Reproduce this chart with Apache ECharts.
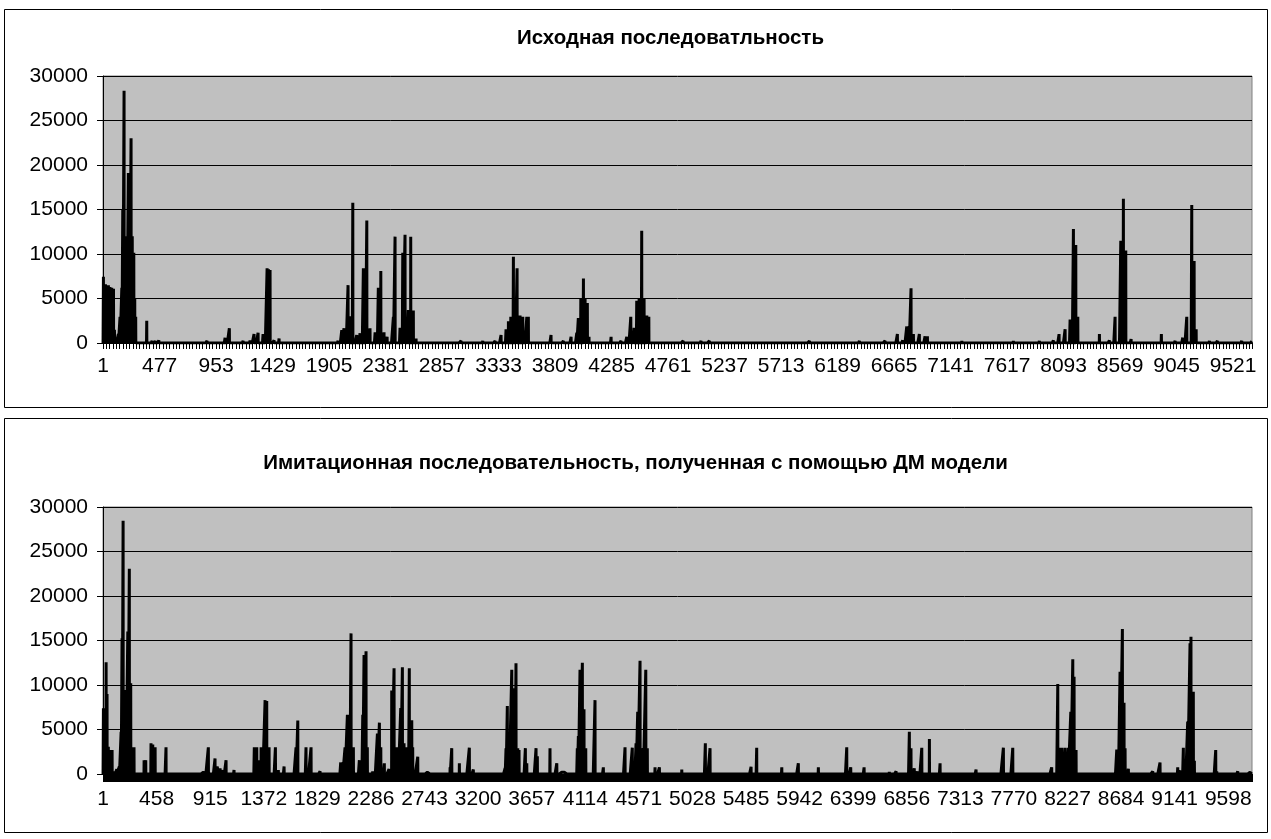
<!DOCTYPE html>
<html><head><meta charset="utf-8">
<script src="https://cdn.jsdelivr.net/npm/echarts@6/dist/echarts.min.js"></script>
<style>html,body{margin:0;padding:0;background:#fff;}#c{width:1271px;height:839px;}</style>
</head><body><div id="c"></div>
<script>
const topTitle = 'Исходная последоватльность';
const bottomTitle = 'Имитационная последовательность, полученная с помощью ДМ модели';
const topCount = 9680;
const bottomCount = 9800;
const yMin = 0, yMax = 30000, yStep = 5000;
const topLabelEvery = 476;
const bottomLabelEvery = 457;

const topSpikeIndex = [3,12,20,31,45,58,66,73,88,96,110,129,143,158,166,177,186,200,213,222,236,246,259,267,275,368,
413,440,470,674,775,876,960,1028,1064,1180,1238,1272,1306,1348,1382,1394,1407,1441,1483,1744,1887,1955,1980,2011,2030,2064,2081,2104,2137,2165,2193,2222,2233,2249,2292,2319,2340,2359,2367,2393,
2446,2460,2502,2525,2544,2572,2592,2614,2637,
3016,3199,3303,3353,3395,3415,3435,3457,3488,3513,3536,3570,3583,
3774,3878,3943,3991,4004,4025,4047,4061,4080,4094,
4280,4364,4412,4446,4474,4496,4516,4538,4558,4581,4598,
4887,5038,5108,5951,6372,6588,6692,6737,6771,6791,6807,6827,6877,6925,6945,7235,
7669,7888,8006,8054,8105,8147,8175,8195,8212,
8394,8478,8526,8574,8596,8616,8661,
8916,9032,9096,9130,9172,9192,9209,
9321,9388,9593,9679];
const topSpikeValue = [7450,6000,6600,2000,6500,6300,1000,6200,6100,1500,600,1000,2950,6200,15000,28350,12000,10000,19100,15000,23000,12000,10150,5000,2950,2500,
250,250,300,200,200,250,200,600,1650,250,300,1000,1150,1000,8400,8300,8200,300,500,200,200,200,250,1450,1650,6500,3000,15770,900,1100,8400,13750,1500,1650,1200,6200,8100,1150,1200,700,
2950,11950,1700,10150,12150,3700,11950,3650,500,
250,250,250,900,1550,2450,2950,9700,8400,3100,2950,2950,2950,
900,250,700,1150,2800,5000,7250,5000,4500,700,
700,250,700,2950,1700,4750,5000,12600,5000,3100,2950,
250,250,250,250,250,250,1000,300,1850,1900,6150,1000,1000,750,750,250,
250,250,300,1000,1550,2650,12800,11000,2950,
1000,300,2950,11500,16200,10400,450,
1000,250,600,2950,15500,9200,1550,
250,250,250,200];

const bottomSpikeIndex = [3,26,34,45,66,77,102,117,139,154,162,171,182,196,211,224,236,253,264,350,364,409,424,444,537,680,736,855,898,955,975,998,1012,1049,1117,
1290,1311,1325,1348,1362,1382,1396,1416,1470,1495,1544,1646,1661,1731,1774,1851,
2027,2044,2064,2084,2115,2135,2186,2215,2226,2243,2254,2300,2340,2357,2369,2399,2439,2462,2482,2499,2519,2539,2553,2567,2584,2612,2633,2641,2684,2766,2846,
2960,2974,3039,3124,3158,3286,3352,3429,3437,3448,3465,3486,3499,3514,3522,3537,3548,3602,3614,3693,3704,3812,3870,3912,3934,
4045,4054,4068,4088,4102,4117,4196,4267,4410,4452,4467,4514,4546,4560,4580,4597,4608,4629,4642,4708,4745,4936,5086,5137,5177,5527,5575,
5789,5930,6101,6149,6343,6377,6448,6491,6655,6706,6764,6877,6891,6919,6945,6983,7048,7139,7216,7267,7409,7446,7650,7679,7759,7807,7949,
8091,8143,8162,8177,8191,8205,8219,8233,8254,8271,8282,8299,8347,8646,8660,8674,8694,8708,8717,8745,8879,8953,9015,9166,9186,9214,
9251,9271,9279,9299,9308,9399,9490,9499,9640,9678,9783];
const bottomSpikeValue = [7400,12550,9000,3050,2700,2700,300,550,850,4750,15250,28450,9450,3000,16000,23050,10200,3000,3000,1550,1550,3450,3300,3000,3000,200,200,200,3000,1750,850,650,450,1550,450,
3000,3000,1550,3000,3000,8300,8200,3000,3000,450,850,3000,6000,3000,3000,300,
1300,1300,3000,6650,15800,3000,1550,6650,13370,13800,3000,300,4550,5770,3000,1200,550,9370,11870,3000,3000,7400,12000,3450,3000,11870,6050,3000,1950,200,200,
750,2900,1200,2950,500,200,200,650,2900,7640,2900,11700,9630,9000,12440,2900,2700,2900,1200,2900,2000,2900,1200,200,200,
2900,4270,11700,12500,7270,2900,8300,750,200,3000,200,2950,3450,7000,12730,2900,2900,11700,2900,750,750,500,200,3450,2900,800,2950,
750,1200,750,200,3000,750,200,750,200,250,300,4750,2900,650,300,2950,3930,1200,200,200,200,500,200,2950,2950,200,200,
750,10100,2950,2950,1600,2950,1600,2950,7000,12890,10930,2700,200,2750,2750,11500,16290,8010,2900,600,200,300,1300,750,400,2950,
5880,14680,15430,9250,1500,200,2700,300,200,300,200];

function buildSeries(count, idx, val) {
  const arr = new Array(count).fill(0);
  idx.forEach((k, i) => { arr[k] = val[i]; });
  return arr;
}
function buildCats(count) { return Array.from({length: count}, (_, i) => String(i + 1)); }

const FONT = 'Liberation Sans';
const chart = echarts.init(document.getElementById('c'), null, {renderer: 'canvas'});

function xAxisCfg(gridIndex, count, every, tickEvery, tickLen, margin) {
  return {
    type: 'category', gridIndex, data: buildCats(count), boundaryGap: true,
    axisLine: {show: true, lineStyle: {color: '#000', width: 1}},
    axisTick: {show: true, interval: tickEvery - 1, length: tickLen, lineStyle: {color: '#000', width: 1}},
    axisLabel: {interval: every - 1, color: '#000', fontSize: 21, fontFamily: FONT, margin: margin},
    splitLine: {show: false}
  };
}
function yAxisCfg(gridIndex) {
  return {
    type: 'value', gridIndex, min: yMin, max: yMax, interval: yStep,
    axisLine: {show: true, lineStyle: {color: '#000', width: 1}},
    axisTick: {show: true, length: 6, lineStyle: {color: '#000'}},
    axisLabel: {color: '#000', fontSize: 21, fontFamily: FONT, margin: 15, formatter: v => String(v)},
    splitLine: {show: true, lineStyle: {color: '#000', width: 1}}
  };
}

chart.setOption({
  animation: false,
  backgroundColor: '#fff',
  title: [
    {text: topTitle, left: 512, top: 23, textStyle: {fontSize: 20.5, fontWeight: 'bold', color: '#000', fontFamily: FONT}},
    {text: bottomTitle, left: 'center', top: 448, textStyle: {fontSize: 20.5, fontWeight: 'bold', color: '#000', fontFamily: FONT}}
  ],
  graphic: [
    {type: 'rect', shape: {x: 4.5, y: 9.5, width: 1263, height: 398}, style: {fill: 'none', stroke: '#000', lineWidth: 1}, z: -1},
    {type: 'rect', shape: {x: 4.5, y: 418.5, width: 1263, height: 414}, style: {fill: 'none', stroke: '#000', lineWidth: 1}, z: -1}
  ],
  grid: [
    {left: 103, top: 76, width: 1149, height: 267, show: true, backgroundColor: '#C0C0C0', borderColor: '#808080', borderWidth: 1},
    {left: 103, top: 507, width: 1149, height: 267, show: true, backgroundColor: '#C0C0C0', borderColor: '#808080', borderWidth: 1}
  ],
  xAxis: [
    xAxisCfg(0, topCount, topLabelEvery, 28, 6, 13),
    xAxisCfg(1, bottomCount, bottomLabelEvery, 4, 8, 15)
  ],
  yAxis: [yAxisCfg(0), yAxisCfg(1)],
  series: [
    {type: 'line', xAxisIndex: 0, yAxisIndex: 0, data: buildSeries(topCount, topSpikeIndex, topSpikeValue),
     symbol: 'none', showSymbol: false, silent: true, lineStyle: {color: '#000', width: 3, join: 'bevel'}},
    {type: 'line', xAxisIndex: 1, yAxisIndex: 1, data: buildSeries(bottomCount, bottomSpikeIndex, bottomSpikeValue),
     symbol: 'none', showSymbol: false, silent: true, lineStyle: {color: '#000', width: 3, join: 'bevel'}}
  ]
});
</script></body></html>
